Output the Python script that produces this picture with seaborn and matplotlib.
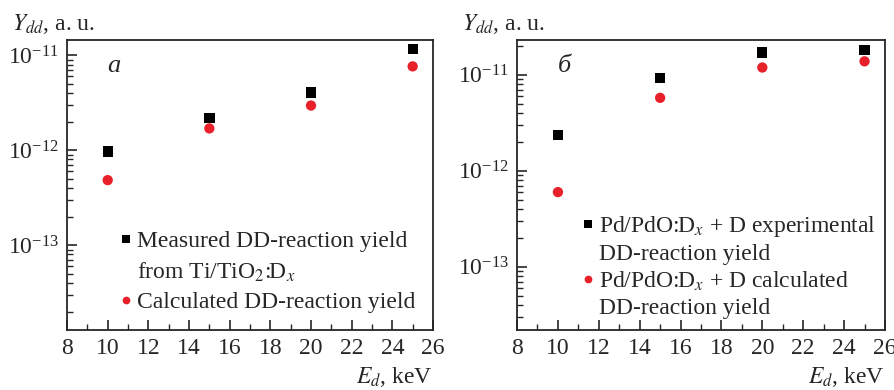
import numpy as np
import pandas as pd
import matplotlib
matplotlib.use('Agg')
import matplotlib.pyplot as plt
import seaborn as sns
from matplotlib.lines import Line2D
from matplotlib.ticker import FixedLocator, MultipleLocator, NullFormatter

# --- DADOS ---
energy = [10, 15, 20, 25]

# painel a: Ti/TiO2:Dx
ti_measured = [0.97e-12, 2.2e-12, 4.05e-12, 1.16e-11]
ti_calculated = [4.85e-13, 1.7e-12, 2.96e-12, 7.65e-12]

# painel б: Pd/PdO:Dx + D
pd_experimental = [2.37e-12, 9.3e-12, 1.7e-11, 1.82e-11]
pd_calculated = [6.0e-13, 5.75e-12, 1.19e-11, 1.38e-11]

y_major = [1e-13, 1e-12, 1e-11]

# cada rótulo da legenda: (primeira linha, continuação)
labels_a = [('Measured DD-reaction yield', 'from Ti/TiO$_2$:D$_x$'),
            ('Calculated DD-reaction yield', None)]
labels_b = [('Pd/PdO:D$_x$ + D experimental', 'DD-reaction yield'),
            ('Pd/PdO:D$_x$ + D calculated', 'DD-reaction yield')]

RED = '#e8202a'

sns.set_style('ticks')
plt.rcParams['font.family'] = ['Liberation Serif', 'DejaVu Serif']
plt.rcParams['mathtext.fontset'] = 'stix'
plt.rcParams['font.size'] = 17

fig = plt.figure(figsize=(8.95, 3.9), dpi=100)
ax_a = fig.add_axes([0.0749, 0.1538, 0.4089, 0.7436])
ax_b = fig.add_axes([0.5777, 0.1538, 0.4111, 0.7436])


def draw_panel(ax, black_vals, red_vals, labels, ylim, letter,
               legend_anchor, spacing):
    names = [labels[0][0], labels[1][0]]
    df = pd.DataFrame({
        'E': energy * 2,
        'Y': black_vals + red_vals,
        'serie': [names[0]] * 4 + [names[1]] * 4,
    })
    sns.scatterplot(data=df, x='E', y='Y', hue='serie', style='serie',
                    palette=['black', RED], markers=['s', 'o'],
                    s=55, linewidth=0, ax=ax, legend=True)
    ax.set_yscale('log')
    ax.set_xlim(8, 26)
    ax.set_ylim(*ylim)
    ax.xaxis.set_major_locator(MultipleLocator(2))
    ax.xaxis.set_minor_locator(MultipleLocator(1))
    ax.set_yticks(y_major)
    # subdivisões 2..9 de cada década, só dentro dos limites
    minors = [m * 10.0 ** e for e in range(-15, -10) for m in range(2, 10)]
    minors = [v for v in minors if ylim[0] <= v <= ylim[1]]
    ax.yaxis.set_minor_locator(FixedLocator(minors))
    ax.yaxis.set_minor_formatter(NullFormatter())
    ax.tick_params(which='both', direction='in', top=False, right=False,
                   labelsize=17, pad=6)
    ax.tick_params(which='major', length=7, width=1.2)
    ax.tick_params(which='minor', length=4, width=1.0)
    for sp in ax.spines.values():
        sp.set_linewidth(1.3)
    ax.set_xlabel('')
    ax.set_ylabel('')
    ax.text(0.11, 0.95, letter, transform=ax.transAxes, fontsize=19,
            style='italic', va='top', ha='left')
    ax.text(-0.15, 1.015, '$Y_{dd}$, a. u.', transform=ax.transAxes,
            fontsize=17, ha='left', va='bottom')
    ax.text(1.0, -0.12, '$E_d$, keV', transform=ax.transAxes,
            fontsize=17, ha='right', va='top')

    # legenda: marcador alinhado com a primeira linha do rótulo
    handles, hl = ax.get_legend_handles_labels()
    blank = Line2D([], [], linestyle='none', marker=None)
    leg_handles, leg_labels = [], []
    for (first, cont) in labels:
        leg_handles.append(handles[hl.index(first)])
        leg_labels.append(first)
        if cont is not None:
            leg_handles.append(blank)
            leg_labels.append(cont)
    ax.legend(leg_handles, leg_labels, loc='lower left',
              bbox_to_anchor=legend_anchor, frameon=False,
              handletextpad=0.15, markerscale=0.75, borderpad=0.2,
              labelspacing=spacing, fontsize=17, handlelength=0.6)


draw_panel(ax_a, ti_measured, ti_calculated, labels_a,
           (1.28e-14, 1.45e-11), 'a', (0.097, 0.0), 0.35)
draw_panel(ax_b, pd_experimental, pd_calculated, labels_b,
           (2.2e-14, 2.3e-11), 'б', (0.13, -0.02), 0.2)

fig.savefig('out.png', dpi=100)
